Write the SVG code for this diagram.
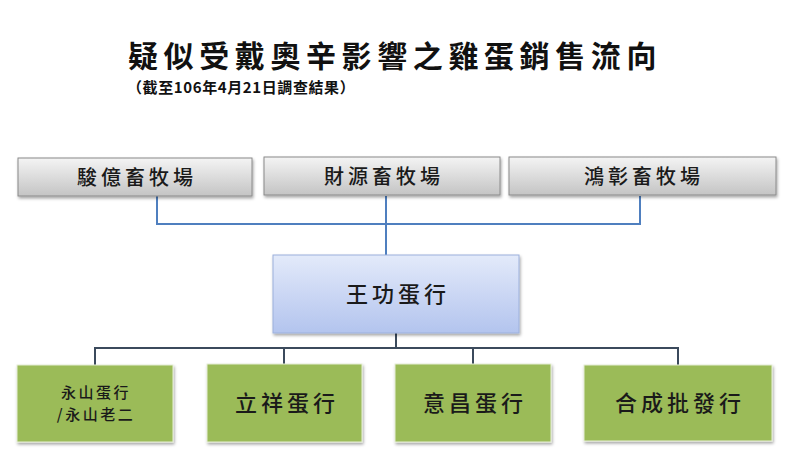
<svg xmlns="http://www.w3.org/2000/svg" width="800" height="450" viewBox="0 0 800 450">
  <defs>
    <linearGradient id="gGray" x1="0" y1="0" x2="0" y2="1">
      <stop offset="0" stop-color="#f4f4f4"/>
      <stop offset="1" stop-color="#c4c4c4"/>
    </linearGradient>
    <linearGradient id="gBlue" x1="0" y1="0" x2="0" y2="1">
      <stop offset="0" stop-color="#e3eafa"/>
      <stop offset="1" stop-color="#b3c4ee"/>
    </linearGradient>
    <filter id="sh" x="-10%" y="-10%" width="120%" height="130%">
      <feDropShadow dx="1" dy="2" stdDeviation="1.5" flood-color="#000" flood-opacity="0.35"/>
    </filter>
  </defs>
  <style>
    .gray { fill: url(#gGray); stroke: #8a8a8a; stroke-width: 1; filter: url(#sh); }
    .blue { fill: url(#gBlue); stroke: #9cb0dc; stroke-width: 1; filter: url(#sh); }
    .green { fill: #9bbb59; stroke: #e6eed6; stroke-width: 1; filter: url(#sh); }
    .t { font-family: "Noto Sans CJK TC", "Noto Sans CJK SC", sans-serif; fill: #1a1a1a; text-anchor: middle; font-weight: 500; }
    .top { font-size: 20px; letter-spacing: 4px; }
    .mid { font-size: 22px; letter-spacing: 4px; }
    .small { font-size: 15px; letter-spacing: 2.5px; }
    .c1 { stroke: #4f7fbf; stroke-width: 2; fill: none; }
    .c2 { stroke: #3b4a5c; stroke-width: 2; fill: none; }
  </style>
  <rect width="800" height="450" fill="#ffffff"/>

  <g id="title">
    <text x="128" y="67" font-family="Noto Sans CJK TC, sans-serif" font-size="30" font-weight="700" letter-spacing="5.6" fill="#111">疑似受戴奧辛影響之雞蛋銷售流向</text>
    <text x="127" y="93" font-family="Noto Sans CJK TC, sans-serif" font-size="15" font-weight="700" letter-spacing="0.6" fill="#111">（截至106年4月21日調查結果）</text>
  </g>

  <g id="connectors">
    <polyline class="c1" points="157,196 157,224 640,224 640,196"/>
    <line class="c1" x1="386" y1="196" x2="386" y2="255"/>
    <line class="c2" x1="396" y1="333" x2="396" y2="348"/>
    <polyline class="c2" points="95,365 95,348 678,348 678,365"/>
    <line class="c2" x1="284" y1="348" x2="284" y2="364"/>
    <line class="c2" x1="473" y1="348" x2="473" y2="364"/>
  </g>

  <g id="n-junyi">
    <rect class="gray" x="18" y="158" width="234" height="38"/>
    <text class="t top" x="137" y="185">駿億畜牧場</text>
  </g>
  <g id="n-caiyuan">
    <rect class="gray" x="264" y="157" width="236" height="38"/>
    <text class="t top" x="384" y="184">財源畜牧場</text>
  </g>
  <g id="n-hongzhang">
    <rect class="gray" x="509" y="157" width="267" height="38"/>
    <text class="t top" x="644" y="184">鴻彰畜牧場</text>
  </g>

  <g id="n-wanggong">
    <rect class="blue" x="273" y="255" width="246" height="78"/>
    <text class="t mid" x="398" y="302">王功蛋行</text>
  </g>

  <g id="n-yongshan">
    <rect class="green" x="17" y="365" width="156" height="77"/>
    <text class="t small" x="96" y="398">永山蛋行</text>
    <text class="t small" x="96" y="420">/永山老二</text>
  </g>
  <g id="n-lixiang">
    <rect class="green" x="207" y="364" width="155" height="78"/>
    <text class="t mid" x="287" y="411">立祥蛋行</text>
  </g>
  <g id="n-yichang">
    <rect class="green" x="395" y="364" width="156" height="78"/>
    <text class="t mid" x="475" y="411">意昌蛋行</text>
  </g>
  <g id="n-hecheng">
    <rect class="green" x="584" y="365" width="188" height="76"/>
    <text class="t mid" x="680" y="411">合成批發行</text>
  </g>
</svg>
